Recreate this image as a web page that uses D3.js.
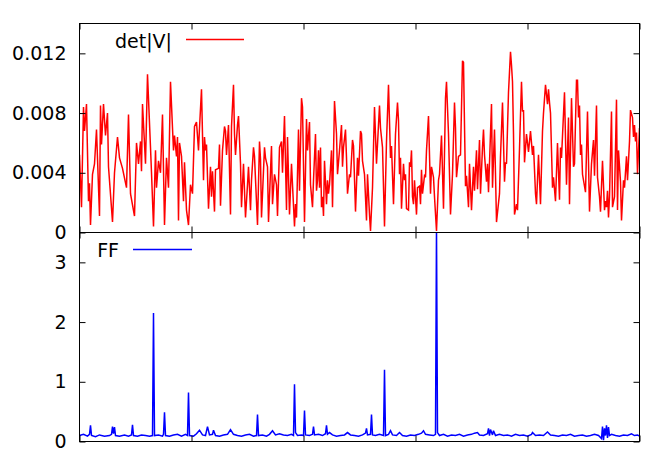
<!DOCTYPE html>
<html><head><meta charset="utf-8">
<script src="https://cdn.jsdelivr.net/npm/d3@7"></script>
<style>html,body{margin:0;padding:0;background:#fff;}svg{display:block;}</style>
</head><body>
<svg id="chart" width="664" height="465"></svg>
<script>
// ---- data ----
const xTicks = [0, 112, 224, 336, 448, 560];
const detTicks = [0, 0.004, 0.008, 0.012];
const detTickLabels = ["0", "0.004", "0.008", "0.012"];
const ffTicks = [0, 1, 2, 3];
const ffTickLabels = ["0", "1", "2", "3"];
const seriesNames = ["det|V|", "FF"];

const detStep = [0,2,4,5,7,9,10,11,13,15,17,20,21,22,24,26,28,29,33,35,38,40,43,47,49,51,55,57,59,61,62,63,66,68,71,72,74,76,77,79,81,83,85,87,89,91,93,94,95,97,98,99,100,102,104,105,107,109,111,113,115,117,119,120,122,124,125,126,127,129,131,132,133,135,136,139,140,141,143,145,146,147,149,151,152,154,155,156,158,159,161,162,164,166,168,169,171,172,174,175,178,180,181,182,185,186,188,189,192,193,195,197,198,200,202,203,205,207,208,210,212,215,216,217,219,220,222,223,225,227,228,230,231,233,234,236,237,238,239,240,241,242,243,244,245,247,248,249,250,252,253,255,257,258,260,262,263,264,266,267,268,270,271,273,274,276,278,279,281,282,283,285,287,288,290,291,293,295,297,300,301,303,305,307,309,311,312,314,316,318,319,320,321,322,324,325,326,327,329,330,331,332,333,334,335,337,338,340,341,342,343,345,346,347,349,351,352,354,355,357,359,360,362,364,366,367,369,371,373,375,376,377,379,381,383,384,385,386,387,389,390,392,394,395,397,398,400,401,403,404,405,407,408,409,412,413,415,416,417,420,421,423,425,426,427,429,431,432,433,434,435,437,438,440,442,443,444,445,447,449,451,453,454,456,457,459,461,463,464,466,468,469,470,471,473,474,476,478,480,481,482,485,487,489,490,492,494,495,497,498,499,500,501,502,503,504,506,508,510,512,514,515,517,518,520,521,523,525,526,527,528,529,530,532,533,535,537,538,539,541,542,544,545,547,548,550,551,553,554,555,556,557,558,560];
const detV = [0.0052,0.0017,0.0084,0.0068,0.0086,0.0021,0.0033,0.0005,0.0039,0.0046,0.0069,0.0011,0.0085,0.0059,0.0086,0.0065,0.0080,0.0044,0.0007,0.0040,0.0064,0.0050,0.0043,0.0030,0.0079,0.0026,0.0011,0.0060,0.0046,0.0061,0.0041,0.0086,0.0046,0.0106,0.0057,0.0040,0.0004,0.0055,0.0030,0.0048,0.0040,0.0079,0.0005,0.0050,0.0030,0.0101,0.0070,0.0055,0.0065,0.0051,0.0064,0.0008,0.0060,0.0051,0.0021,0.0047,0.0015,0.0005,0.0032,0.0026,0.0071,0.0074,0.0055,0.0070,0.0096,0.0035,0.0064,0.0055,0.0059,0.0016,0.0044,0.0024,0.0041,0.0014,0.0042,0.0043,0.0059,0.0018,0.0055,0.0071,0.0068,0.0052,0.0072,0.0012,0.0071,0.0099,0.0066,0.0052,0.0072,0.0078,0.0046,0.0017,0.0046,0.0010,0.0032,0.0044,0.0015,0.0035,0.0057,0.0051,0.0005,0.0061,0.0049,0.0010,0.0057,0.0050,0.0044,0.0007,0.0058,0.0019,0.0039,0.0032,0.0011,0.0057,0.0061,0.0040,0.0078,0.0015,0.0064,0.0012,0.0046,0.0004,0.0019,0.0010,0.0069,0.0028,0.0090,0.0084,0.0007,0.0076,0.0055,0.0074,0.0032,0.0017,0.0035,0.0066,0.0028,0.0035,0.0055,0.0030,0.0057,0.0017,0.0024,0.0011,0.0048,0.0019,0.0035,0.0026,0.0032,0.0055,0.0017,0.0088,0.0066,0.0039,0.0055,0.0072,0.0044,0.0057,0.0069,0.0050,0.0026,0.0039,0.0037,0.0062,0.0058,0.0014,0.0050,0.0038,0.0068,0.0066,0.0048,0.0039,0.0008,0.0039,0.0012,0.0001,0.0030,0.0084,0.0046,0.0085,0.0070,0.0057,0.0004,0.0061,0.0099,0.0050,0.0058,0.0019,0.0066,0.0087,0.0075,0.0039,0.0050,0.0016,0.0046,0.0035,0.0039,0.0016,0.0015,0.0047,0.0044,0.0055,0.0024,0.0019,0.0035,0.0012,0.0030,0.0031,0.0019,0.0042,0.0026,0.0038,0.0037,0.0055,0.0078,0.0026,0.0044,0.0037,0.0024,0.0001,0.0035,0.0039,0.0065,0.0016,0.0090,0.0101,0.0066,0.0012,0.0039,0.0087,0.0070,0.0037,0.0051,0.0052,0.0115,0.0114,0.0072,0.0031,0.0038,0.0017,0.0046,0.0015,0.0044,0.0028,0.0055,0.0029,0.0062,0.0026,0.0057,0.0069,0.0052,0.0034,0.0046,0.0027,0.0086,0.0030,0.0069,0.0039,0.0007,0.0026,0.0051,0.0087,0.0034,0.0047,0.0046,0.0094,0.0121,0.0112,0.0101,0.0066,0.0012,0.0019,0.0015,0.0056,0.0101,0.0081,0.0082,0.0047,0.0066,0.0054,0.0068,0.0052,0.0058,0.0026,0.0019,0.0052,0.0019,0.0068,0.0080,0.0099,0.0086,0.0096,0.0087,0.0080,0.0030,0.0037,0.0021,0.0060,0.0022,0.0057,0.0050,0.0094,0.0032,0.0077,0.0019,0.0090,0.0044,0.0046,0.0102,0.0102,0.0077,0.0085,0.0052,0.0059,0.0039,0.0035,0.0027,0.0081,0.0014,0.0046,0.0062,0.0038,0.0085,0.0037,0.0024,0.0014,0.0048,0.0015,0.0021,0.0017,0.0028,0.0010,0.0024,0.0081,0.0017,0.0024,0.0089,0.0015,0.0055,0.0034,0.0008,0.0035,0.0030,0.0051,0.0035,0.0061,0.0082,0.0077,0.0064,0.0072,0.0061,0.0067,0.0039,0.0070];

const ffStep = [0,4,8,10,11,12,16,20,25,30,32,33,34,35,36,40,45,49,52,53,54,58,62,66,70,73,74,75,79,83,84,85,86,90,94,98,102,106,108,109,110,114,117,120,123,126,128,130,133,134,136,140,144,148,151,154,158,162,166,170,174,177,178,179,183,187,190,193,196,200,204,208,212,214,215,216,218,222,224,225,226,230,233,234,235,239,243,246,247,248,250,253,257,261,265,268,271,275,279,283,286,287,288,291,292,293,296,300,304,305,306,309,311,313,317,320,323,327,331,335,339,342,344,346,350,354,356,357,358,360,364,368,372,376,380,384,388,392,395,398,400,404,408,409,410,411,413,414,416,420,424,428,432,436,440,444,448,452,453,456,460,464,468,471,475,479,483,487,491,495,499,503,507,511,515,519,522,523,524,525,526,527,528,529,530,532,536,540,544,548,552,555,558,560];
const ffV = [0.10,0.12,0.09,0.12,0.27,0.10,0.08,0.11,0.09,0.10,0.12,0.25,0.13,0.24,0.10,0.09,0.11,0.09,0.11,0.28,0.10,0.09,0.11,0.10,0.09,0.10,2.15,0.10,0.11,0.09,0.12,0.49,0.10,0.09,0.11,0.12,0.09,0.12,0.10,0.82,0.10,0.09,0.13,0.19,0.11,0.10,0.25,0.11,0.12,0.19,0.10,0.09,0.11,0.12,0.20,0.12,0.10,0.09,0.11,0.12,0.09,0.10,0.45,0.10,0.11,0.09,0.12,0.18,0.11,0.13,0.11,0.10,0.12,0.10,0.96,0.15,0.10,0.11,0.10,0.52,0.11,0.10,0.12,0.25,0.11,0.12,0.10,0.13,0.27,0.12,0.15,0.11,0.09,0.10,0.11,0.15,0.11,0.10,0.09,0.11,0.14,0.22,0.11,0.12,0.45,0.11,0.10,0.12,0.10,1.20,0.10,0.12,0.18,0.11,0.10,0.15,0.10,0.09,0.11,0.10,0.12,0.14,0.18,0.12,0.11,0.10,0.12,3.60,0.15,0.10,0.12,0.09,0.11,0.10,0.12,0.09,0.11,0.12,0.14,0.15,0.11,0.10,0.13,0.22,0.10,0.20,0.11,0.18,0.10,0.12,0.10,0.11,0.09,0.12,0.10,0.11,0.09,0.12,0.15,0.10,0.11,0.10,0.16,0.11,0.10,0.09,0.11,0.10,0.12,0.09,0.10,0.11,0.09,0.10,0.12,0.10,0.05,0.25,0.02,0.22,0.10,0.27,0.06,0.24,0.10,0.12,0.10,0.09,0.11,0.10,0.13,0.10,0.11,0.09];

// ---- layout ----
const svg = d3.select("#chart");
const FONT = "'DejaVu Sans', sans-serif";
const FS = 19;
const left = 79.5, right = 639.5;
const panels = [
  {name: seriesNames[0], top: 23.5, bottom: 232.5, domain: [0, 0.014], ticks: detTicks, labels: detTickLabels,
   xs: detStep, ys: detV, color: "#ff0000", legY: 39.5, legTextX: 172, legBase: 47.5, legX1: 186, legX2: 244},
  {name: seriesNames[1], top: 232.5, bottom: 441.5, domain: [0, 3.5], ticks: ffTicks, labels: ffTickLabels,
   xs: ffStep, ys: ffV, color: "#0000ff", legY: 249.5, legTextX: 119, legBase: 256.5, legX1: 133, legX2: 192}
];
const x = d3.scaleLinear().domain([0, 560]).range([left, right]);

panels.forEach((p, i) => {
  const y = d3.scaleLinear().domain(p.domain).range([p.bottom, p.top]);
  const g = svg.append("g");
  const clipId = "clip" + i;
  svg.append("clipPath").attr("id", clipId).append("rect")
    .attr("x", left).attr("y", p.top).attr("width", right - left).attr("height", p.bottom - p.top);

  // data line
  const pts = p.xs.map((d, k) => [d, p.ys[k]]);
  g.append("path").datum(pts)
    .attr("clip-path", `url(#${clipId})`)
    .attr("fill", "none").attr("stroke", p.color).attr("stroke-width", 1.5)
    .attr("stroke-linejoin", "miter").attr("stroke-miterlimit", 3)
    .attr("d", d3.line().x(d => x(d[0])).y(d => y(d[1])));

  // axes (inward ticks on all sides)
  const yl = d3.axisLeft(y).tickValues(p.ticks).tickSize(-6).tickFormat((d, k) => p.labels[k]).tickPadding(13);
  const yr = d3.axisRight(y).tickValues(p.ticks).tickSize(-6).tickFormat("");
  const xb = d3.axisBottom(x).tickValues(xTicks).tickSize(-6).tickFormat("");
  const xt = d3.axisTop(x).tickValues(xTicks).tickSize(-6).tickFormat("");
  const gl = g.append("g").attr("transform", `translate(${left},0)`).call(yl);
  g.append("g").attr("transform", `translate(${right},0)`).call(yr);
  g.append("g").attr("transform", `translate(0,${p.bottom})`).call(xb);
  g.append("g").attr("transform", `translate(0,${p.top})`).call(xt);
  g.selectAll(".domain").remove();
  g.selectAll(".tick line").attr("stroke", "#000").attr("stroke-width", 1);
  gl.selectAll(".tick text").attr("font-family", FONT).attr("font-size", FS).attr("fill", "#000");

  // frame
  g.append("rect").attr("x", left).attr("y", p.top).attr("width", right - left).attr("height", p.bottom - p.top)
    .attr("fill", "none").attr("stroke", "#000").attr("stroke-width", 1);

  // legend
  g.append("text").attr("x", p.legTextX).attr("y", p.legBase).attr("text-anchor", "end")
    .attr("font-family", FONT).attr("font-size", FS).attr("fill", "#000").text(p.name);
  g.append("line").attr("x1", p.legX1).attr("x2", p.legX2).attr("y1", p.legY).attr("y2", p.legY)
    .attr("stroke", p.color).attr("stroke-width", 1.5);
});
</script>
</body></html>
